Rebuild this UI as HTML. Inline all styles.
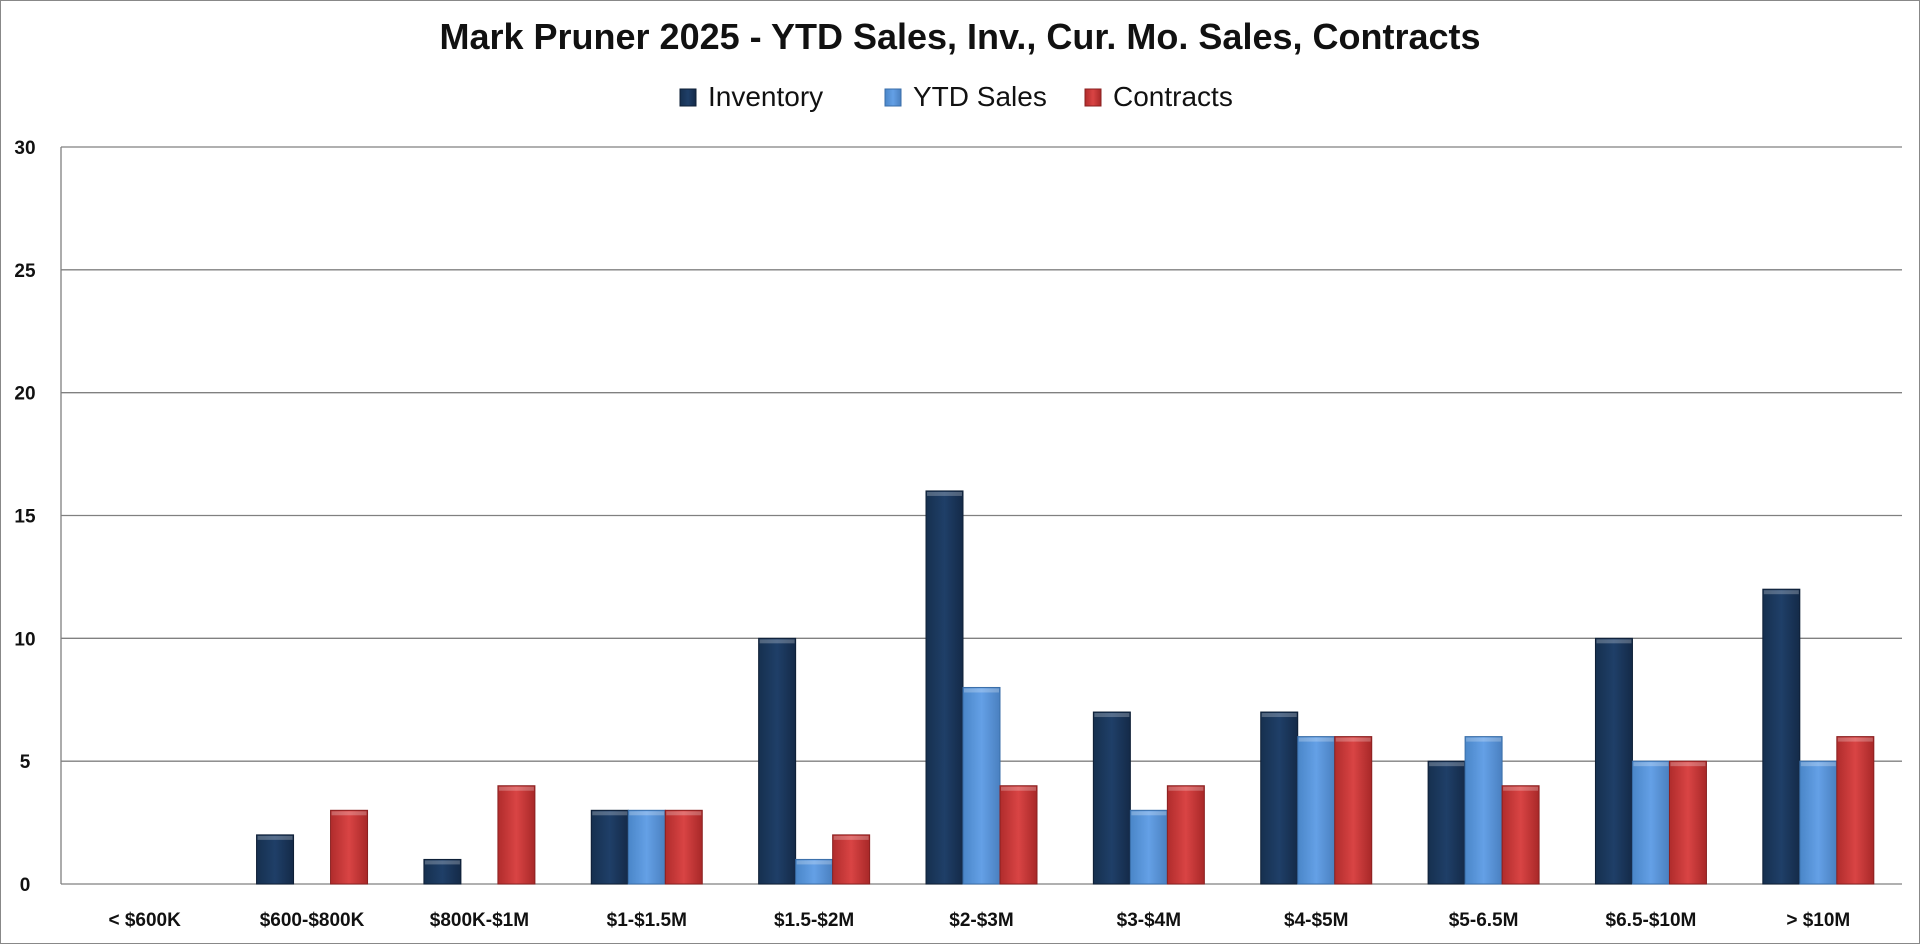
<!DOCTYPE html>
<html><head><meta charset="utf-8"><style>
body{margin:0;background:#fff;}
svg{display:block;font-family:"Liberation Sans",sans-serif;}
</style></head><body>
<svg id="chart" width="1920" height="944">
<defs>
<linearGradient id="gInv" x1="0" x2="1"><stop offset="0" stop-color="#16304f"/><stop offset="0.5" stop-color="#1f3f68"/><stop offset="1" stop-color="#142a48"/></linearGradient>
<linearGradient id="gYtd" x1="0" x2="1"><stop offset="0" stop-color="#4a86c8"/><stop offset="0.5" stop-color="#64a0e6"/><stop offset="1" stop-color="#4a80c0"/></linearGradient>
<linearGradient id="gCon" x1="0" x2="1"><stop offset="0" stop-color="#b02c2c"/><stop offset="0.5" stop-color="#d94444"/><stop offset="1" stop-color="#a82828"/></linearGradient>
</defs>
<rect x="0.5" y="0.5" width="1919" height="943" fill="#fff" stroke="#888"/>
<text x="960" y="49" text-anchor="middle" font-size="36" font-weight="bold" fill="#111">Mark Pruner 2025 - YTD Sales, Inv., Cur. Mo. Sales, Contracts</text>
<g id="legend"></g>
<g id="grid"></g><g id="bars"></g><g id="labels"></g>
</svg>
<script>
const categories=["< $600K","$600-$800K","$800K-$1M","$1-$1.5M","$1.5-$2M","$2-$3M","$3-$4M","$4-$5M","$5-6.5M","$6.5-$10M","> $10M"];
const inventory=[0,2,1,3,10,16,7,7,5,10,12];
const ytdSales=[0,0,0,3,1,8,3,6,6,5,5];
const contracts=[0,3,4,3,2,4,4,6,4,5,6];
const yTicks=[0,5,10,15,20,25,30];
const seriesNames=["Inventory","YTD Sales","Contracts"];
const NS="http://www.w3.org/2000/svg";
const L=61,R=1902,T=147,B=884,yMax=30;
const y=v=>B-(v/yMax)*(B-T);
const cw=(R-L)/categories.length;
const bw=37;
function mk(tag,attrs,parent){const e=document.createElementNS(NS,tag);for(const k in attrs)e.setAttribute(k,attrs[k]);parent.appendChild(e);return e;}
const grid=document.getElementById('grid'),bars=document.getElementById('bars'),labels=document.getElementById('labels'),legend=document.getElementById('legend');
yTicks.forEach(t=>{
  const ln=mk('line',{x1:L,x2:R,y1:y(t),y2:y(t),stroke:'#808080','stroke-width':1.3},grid);
  
  
  const tx=mk('text',{x:25,y:y(t)+7,'text-anchor':'middle','font-size':19,'font-weight':'bold',fill:'#111'},labels);
  tx.textContent=t;
  
  
});
const axl=mk('line',{x1:L,x2:L,y1:T,y2:B,stroke:'#808080','stroke-width':1.3},grid);


const series=[inventory,ytdSales,contracts],fills=['url(#gInv)','url(#gYtd)','url(#gCon)'],strokes=['#0e1f36','#3a6ea8','#8a2020'];
categories.forEach((c,i)=>{
  const cx=L+cw*(i+0.5);
  series.forEach((s,j)=>{
    if(s[i]<=0)return;
    const x=cx-1.5*bw+j*bw;
    const r=mk('rect',{x:x,y:y(s[i]),width:bw,height:B-y(s[i]),fill:fills[j],stroke:strokes[j],'stroke-width':1},bars);
    
    
    mk('rect',{x:x+1,y:y(s[i])+1,width:bw-2,height:4,fill:'#fff',opacity:0.25},bars);
  });
  const tx=mk('text',{x:cx,y:926,'text-anchor':'middle','font-size':19,'font-weight':'bold',fill:'#111'},labels);
  tx.textContent=c;
  
  
});
const lx=[680,885,1085];
seriesNames.forEach((n,j)=>{
  const sw=mk('rect',{x:lx[j],y:89,width:16,height:17,fill:fills[j],stroke:strokes[j]},legend);
  
  
  const t=mk('text',{x:lx[j]+28,y:106,'font-size':28,fill:'#111'},legend);
  t.textContent=n;
  
  
});
</script>
</body></html>
